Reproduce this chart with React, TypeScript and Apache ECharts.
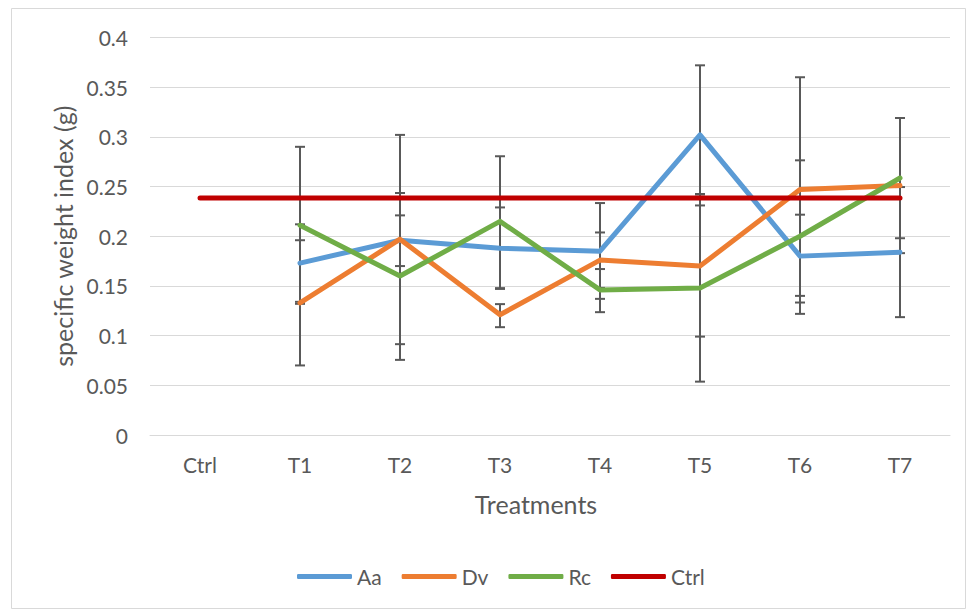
import React, { useEffect, useRef } from "react";
import * as echarts from "echarts";

const categories = ["Ctrl", "T1", "T2", "T3", "T4", "T5", "T6", "T7"];
const aaValues = [null, 0.173, 0.196, 0.188, 0.185, 0.302, 0.18, 0.184];
const dvValues = [null, 0.133, 0.197, 0.121, 0.176, 0.17, 0.247, 0.251];
const rcValues = [null, 0.211, 0.16, 0.215, 0.146, 0.148, 0.2, 0.2586];
const ctrlValues = [0.2385, 0.2385, 0.2385, 0.2385, 0.2385, 0.2385, 0.2385, 0.2385];

// error bar ranges [low, high] per category (null where absent)
const aaErr = [null, [0.134, 0.212], [0.0914, 0.302], [0.147, 0.229], [0.137, 0.2334], [0.231, 0.372], [0.14, 0.2217], [0.1186, 0.2495]];
const dvErr = [null, [0.07, 0.196], [0.17, 0.221], [0.1085, 0.1317], [0.148, 0.2038], [0.099, 0.2425], [0.1333, 0.36], [0.183, 0.319]];
const rcErr = [null, [0.132, 0.29], [0.0756, 0.2435], [0.1478, 0.2805], [0.1236, 0.167], [0.0537, 0.242], [0.1219, 0.2764], [0.198, 0.319]];

const seriesNames = ["Aa", "Dv", "Rc", "Ctrl"];
const colors = ["#5B9BD5", "#ED7D31", "#70AD47", "#C00000"];

const FONT = "Lato, 'Open Sans', sans-serif";
const TXT = "#595959";

function errData(err: any[]) {
  const out: any[] = [];
  err.forEach((e, i) => {
    if (e) out.push([i, e[0], e[1]]);
  });
  return out;
}

function errSeries(err: any[]) {
  return {
    type: "custom",
    silent: true,
    z: 1,
    data: errData(err),
    encode: { x: 0, y: [1, 2] },
    renderItem: (params: any, api: any) => {
      const x = api.value(0);
      const lo = api.coord([x, api.value(1)]);
      const hi = api.coord([x, api.value(2)]);
      const hw = 5;
      const style = { stroke: "#595959", lineWidth: 2 };
      return {
        type: "group",
        children: [
          { type: "line", shape: { x1: lo[0], y1: lo[1], x2: hi[0], y2: hi[1] }, style },
          { type: "line", shape: { x1: lo[0] - hw, y1: lo[1], x2: lo[0] + hw, y2: lo[1] }, style },
          { type: "line", shape: { x1: hi[0] - hw, y1: hi[1], x2: hi[0] + hw, y2: hi[1] }, style },
        ],
      };
    },
  };
}

function lineSeries(name: string, data: any[], color: string) {
  return {
    name,
    type: "line",
    data,
    z: 3,
    symbol: "none",
    showSymbol: false,
    connectNulls: false,
    lineStyle: { color, width: 5, cap: "round", join: "round" },
    itemStyle: { color },
  };
}

export default function App() {
  const ref = useRef<HTMLDivElement>(null);
  useEffect(() => {
    document.body.style.margin = "0";
    const chart = echarts.init(ref.current!, null, { renderer: "svg" });
    chart.setOption({
      animation: false,
      backgroundColor: "#ffffff",
      textStyle: { fontFamily: FONT },
      graphic: [
        {
          type: "rect",
          shape: { x: 11.5, y: 8.5, width: 954, height: 600 },
          style: { fill: "none", stroke: "#d9d9d9", lineWidth: 1 },
          silent: true,
          z: -10,
        },
      ],
      grid: { left: 150, right: 18, top: 37.5, height: 397.5, containLabel: false },
      legend: {
        top: 561,
        left: 292,
        icon: "roundRect",
        itemWidth: 55,
        itemHeight: 5,
        itemGap: 20,
        data: seriesNames,
        textStyle: { fontFamily: FONT, fontSize: 21, color: TXT },
      },
      xAxis: {
        type: "category",
        data: categories,
        boundaryGap: true,
        name: "Treatments",
        nameLocation: "middle",
        nameGap: 56,
        nameTextStyle: { fontFamily: FONT, fontSize: 25, color: TXT, padding: [0, 28, 0, 0] },
        axisLine: { lineStyle: { color: "#d9d9d9", width: 1 } },
        axisTick: { show: false },
        axisLabel: { margin: 19, fontFamily: FONT, fontSize: 21, color: TXT },
        splitLine: { show: false },
      },
      yAxis: {
        type: "value",
        min: 0,
        max: 0.4,
        interval: 0.05,
        name: "specific weight index (g)",
        nameLocation: "middle",
        nameGap: 75,
        nameTextStyle: { fontFamily: FONT, fontSize: 25, color: TXT },
        axisLine: { show: false },
        axisTick: { show: false },
        axisLabel: {
          margin: 22,
          fontFamily: FONT,
          fontSize: 21,
          color: TXT,
          formatter: (v: number) => String(parseFloat(v.toFixed(2))),
        },
        splitLine: { lineStyle: { color: "#d9d9d9", width: 1 } },
      },
      series: [
        errSeries(aaErr),
        errSeries(dvErr),
        errSeries(rcErr),
        lineSeries("Aa", aaValues, colors[0]),
        lineSeries("Dv", dvValues, colors[1]),
        lineSeries("Rc", rcValues, colors[2]),
        lineSeries("Ctrl", ctrlValues, colors[3]),
      ],
    });
    return () => chart.dispose();
  }, []);
  return <div ref={ref} style={{ width: 968, height: 611 }} />;
}
